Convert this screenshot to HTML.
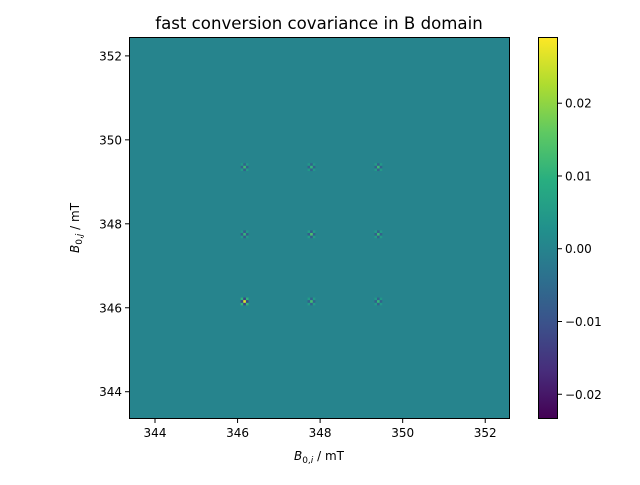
<!DOCTYPE html>
<html><head><meta charset="utf-8"><style>
body{margin:0;background:#fff;font-family:"Liberation Sans","DejaVu Sans",sans-serif}
text{font-family:"DejaVu Sans","Liberation Sans",sans-serif;font-size:12px;fill:#000}
</style></head><body>
<svg id="chart" width="640" height="480" viewBox="0 0 640 480" xmlns="http://www.w3.org/2000/svg">
<defs>
<linearGradient id="viridis" x1="0" y1="1" x2="0" y2="0">
<stop offset="0" stop-color="#440154"/><stop offset="0.125" stop-color="#472d7b"/>
<stop offset="0.25" stop-color="#3b528b"/><stop offset="0.375" stop-color="#2c728e"/>
<stop offset="0.5" stop-color="#21918c"/><stop offset="0.625" stop-color="#28ae80"/>
<stop offset="0.75" stop-color="#5ec962"/><stop offset="0.875" stop-color="#addc30"/>
<stop offset="1" stop-color="#fde725"/>
</linearGradient>
</defs>
<text x="319" y="29" text-anchor="middle" style="font-size:16.6px">fast conversion covariance in B domain</text>
<g id="plot"></g>
<g id="axes"></g>
<text x="319" y="460" text-anchor="middle"><tspan font-style="italic">B</tspan><tspan font-size="9" dy="3">0,<tspan font-style="italic">i</tspan></tspan><tspan dy="-3"> / mT</tspan></text>
<text transform="translate(79,228) rotate(-90)" text-anchor="middle"><tspan font-style="italic">B</tspan><tspan font-size="9" dy="3">0,<tspan font-style="italic">j</tspan></tspan><tspan dy="-3"> / mT</tspan></text>
<rect x="538.5" y="37.5" width="19" height="381" fill="url(#viridis)" stroke="#000" stroke-width="1"/>
<g id="cbar"></g>
</svg>
<script>
const xTicks=[344,346,348,350,352];
const yTicks=[344,346,348,350,352];
const cTicks=[-0.02,-0.01,0.00,0.01,0.02];
const cTickLabels=["\u22120.02","\u22120.01","0.00","0.01","0.02"];
const spotX=[346.17,347.79,349.41,346.17,347.79,349.41,346.17,347.79,349.41];
const spotY=[349.35,349.35,349.35,347.75,347.75,347.75,346.15,346.15,346.15];
const spotPeak=[0.012,0.011,0.012,0.011,0.014,0.012,0.027,0.013,0.011];
const spotNeighbor=[-0.007,-0.007,-0.007,-0.008,-0.008,-0.007,-0.013,-0.007,-0.007];
const baseValue=0.0;
const ns="http://www.w3.org/2000/svg";
const L=129,R=510,T=37,B=419;
const xmin=343.37,xmax=352.6,ymin=343.35,ymax=352.45;
const cmin=-0.0234,cmax=0.0291;
function sx(v){return L+(v-xmin)/(xmax-xmin)*(R-L);}
function sy(v){return B-(v-ymin)/(ymax-ymin)*(B-T);}
function cy(v){return B-(v-cmin)/(cmax-cmin)*(B-T);}
const stops=[[68,1,84],[71,45,123],[59,82,139],[44,114,142],[33,145,140],[40,174,128],[94,201,98],[173,220,48],[253,231,37]];
function cmap(v){let t=(v-cmin)/(cmax-cmin);t=Math.max(0,Math.min(1,t))*8;const i=Math.min(7,Math.floor(t)),f=t-i;const a=stops[i],b=stops[i+1];return `rgb(${a.map((c,k)=>Math.round(c+(b[k]-c)*f)).join(',')})`;}
function mk(tag,attrs,parent){const e=document.createElementNS(ns,tag);for(const k in attrs)e.setAttribute(k,attrs[k]);parent.appendChild(e);return e;}
const plot=document.getElementById('plot');
const bg=mk('rect',{x:L,y:T,width:R-L,height:B-T,fill:cmap(baseValue)},plot);


const cs=2.6;
spotX.forEach((xv,i)=>{
  const cx=sx(xv),cyy=sy(spotY[i]);
  const g=mk('g',{},plot);
  
  
  const dg=[[-1,-1],[1,1],[-1,1],[1,-1]];
  dg.forEach(o=>{mk('rect',{x:cx-cs/2+o[0]*cs,y:cyy-cs/2+o[1]*cs,width:cs,height:cs,fill:cmap(spotPeak[i]*0.4)},g);});
  const off=[[0,-1],[0,1],[-1,0],[1,0]];
  off.forEach(o=>{mk('rect',{x:cx-cs/2+o[0]*cs,y:cyy-cs/2+o[1]*cs,width:cs,height:cs,fill:cmap(spotNeighbor[i])},g);});
  mk('rect',{x:cx-cs/2,y:cyy-cs/2,width:cs,height:cs,fill:cmap(spotPeak[i])},g);
});
const axes=document.getElementById('axes');
const frame=mk('rect',{x:L+0.5,y:T+0.5,width:R-L-1,height:B-T-1,fill:'none',stroke:'#000','stroke-width':1},axes);


xTicks.forEach(v=>{const x=sx(v);
  mk('line',{x1:x,x2:x,y1:B,y2:B+4,stroke:'#000'},axes);
  const t=mk('text',{x:x,y:B+18,'text-anchor':'middle'},axes);t.textContent=v;
  
  });
yTicks.forEach(v=>{const y=sy(v);
  mk('line',{x1:L-4,x2:L,y1:y,y2:y,stroke:'#000'},axes);
  const t=mk('text',{x:L-7,y:y+4.5,'text-anchor':'end'},axes);t.textContent=v;
  
  });
const cb=document.getElementById('cbar');
cTicks.forEach((v,i)=>{const y=cy(v);
  mk('line',{x1:558,x2:562,y1:y,y2:y,stroke:'#000'},cb);
  const t=mk('text',{x:565,y:y+4.5},cb);t.textContent=cTickLabels[i];
  
  });
</script>
</body></html>
